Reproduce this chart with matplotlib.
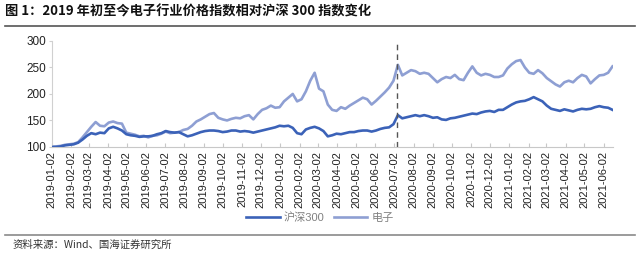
import matplotlib
matplotlib.use('Agg')
from matplotlib import pyplot as plt
import pandas as pd

plt.rcParams['font.family'] = ['Liberation Sans', 'Noto Sans CJK SC', 'DejaVu Sans']

start = '2019-01-02'
event_date = '2020-07-06'

# weekly readings, from 2019-01-02 on
dianzi = [100, 101, 102, 104, 105, 106, 109, 118, 128, 138,
          147, 140, 139, 146, 148, 145, 144, 127, 125, 123,
          120, 121, 118, 121, 122, 125, 129, 126, 127, 128,
          132, 134, 140, 148, 152, 157, 162, 164, 155, 152,
          150, 153, 155, 154, 158, 160, 152, 162, 170, 173,
          178, 174, 175, 186, 193, 200, 186, 190, 205, 225,
          240, 210, 205, 180, 170, 168, 175, 172, 178, 183,
          188, 193, 190, 180, 187, 195, 203, 212, 225, 255,
          235, 240, 245, 243, 238, 240, 238, 230, 222, 228,
          232, 230, 236, 228, 226, 240, 252, 240, 235, 238,
          236, 232, 232, 235, 248, 256, 262, 264, 250, 240,
          238, 245, 239, 230, 224, 218, 214, 222, 225, 222,
          230, 236, 233, 220, 228, 235, 236, 240, 252]
hs300 = [100, 100, 101, 103, 104, 105, 108, 114, 121, 126,
         124, 127, 126, 135, 138, 135, 131, 124, 122, 121,
         119, 120, 120, 121, 124, 126, 130, 128, 127, 128,
         124, 120, 122, 125, 128, 130, 131, 131, 130, 128,
         129, 131, 131, 129, 130, 129, 127, 129, 131, 133,
         135, 137, 140, 139, 140, 136, 126, 124, 133, 136,
         138, 135, 130, 120, 122, 125, 124, 126, 128, 128,
         130, 131, 131, 129, 131, 134, 136, 137, 143, 160,
         154, 156, 158, 160, 158, 160, 158, 155, 156, 152,
         151, 154, 155, 157, 159, 161, 163, 162, 165, 167,
         168, 166, 170, 170, 175, 180, 184, 186, 187, 190,
         194, 190, 186, 178, 172, 170, 168, 171, 169, 167,
         170, 172, 171, 172, 175, 177, 175, 174, 170]

dates = pd.date_range(start, periods=len(dianzi), freq='7D')
ticks = pd.date_range('2019-01-01', periods=30, freq='MS') + pd.Timedelta(days=1)

dark = '#3B62B8'
light = '#8E9FD3'

fig = plt.figure(figsize=(6.4, 2.56), dpi=100)
ax = fig.add_axes([0.081, 0.426, 0.877, 0.414])

ax.plot(dates, hs300, color=dark, lw=1.9, label='沪深300', zorder=3)
ax.plot(dates, dianzi, color=light, lw=1.9, label='电子', zorder=2)
ax.axvline(pd.Timestamp(event_date), color='#555555', lw=1.0, ls=(0, (4, 3)), zorder=4)

ax.set_ylim(100, 300)
ax.set_yticks([100, 150, 200, 250, 300])
ax.set_xlim(pd.Timestamp(start), dates[-1] + pd.Timedelta(days=1))
ax.set_xticks(ticks)
ax.set_xticklabels([t.strftime('%Y-%m-%d') for t in ticks], rotation=90)

for s in ['top', 'right']:
    ax.spines[s].set_visible(False)
ax.spines['left'].set_color('#d0d0d0')
ax.spines['bottom'].set_color('#c8c8c8')
ax.tick_params(axis='y', length=2, color='#d0d0d0', labelsize=8.5, labelcolor='#222222', pad=2)
ax.tick_params(axis='x', direction='in', length=3, color='#c8c8c8', labelsize=8, labelcolor='#222222', pad=3)

fig.legend(loc='center', bbox_to_anchor=(0.5, 1 - 218 / 256), ncol=2, frameon=False,
           fontsize=8, labelcolor='#808080', handlelength=3, columnspacing=0.8, handletextpad=0.4)

fig.text(0.008, 1 - 12 / 256, '图 1：2019 年初至今电子行业价格指数相对沪深 300 指数变化',
         fontsize=9.5, fontweight='bold', va='center', family=['Noto Sans CJK SC'], color='#111111')
fig.add_artist(plt.Line2D([0.008, 0.992], [1 - 26 / 256] * 2, color='#555555', lw=1.2))
fig.add_artist(plt.Line2D([0.008, 0.992], [1 - 235 / 256] * 2, color='#8a8a8a', lw=1.2))
fig.text(0.019, 1 - 245 / 256, '资料来源：Wind、国海证券研究所', fontsize=7.5, va='center',
         family=['Noto Sans CJK SC'], color='#333333')

plt.savefig('out.png', dpi=100)
